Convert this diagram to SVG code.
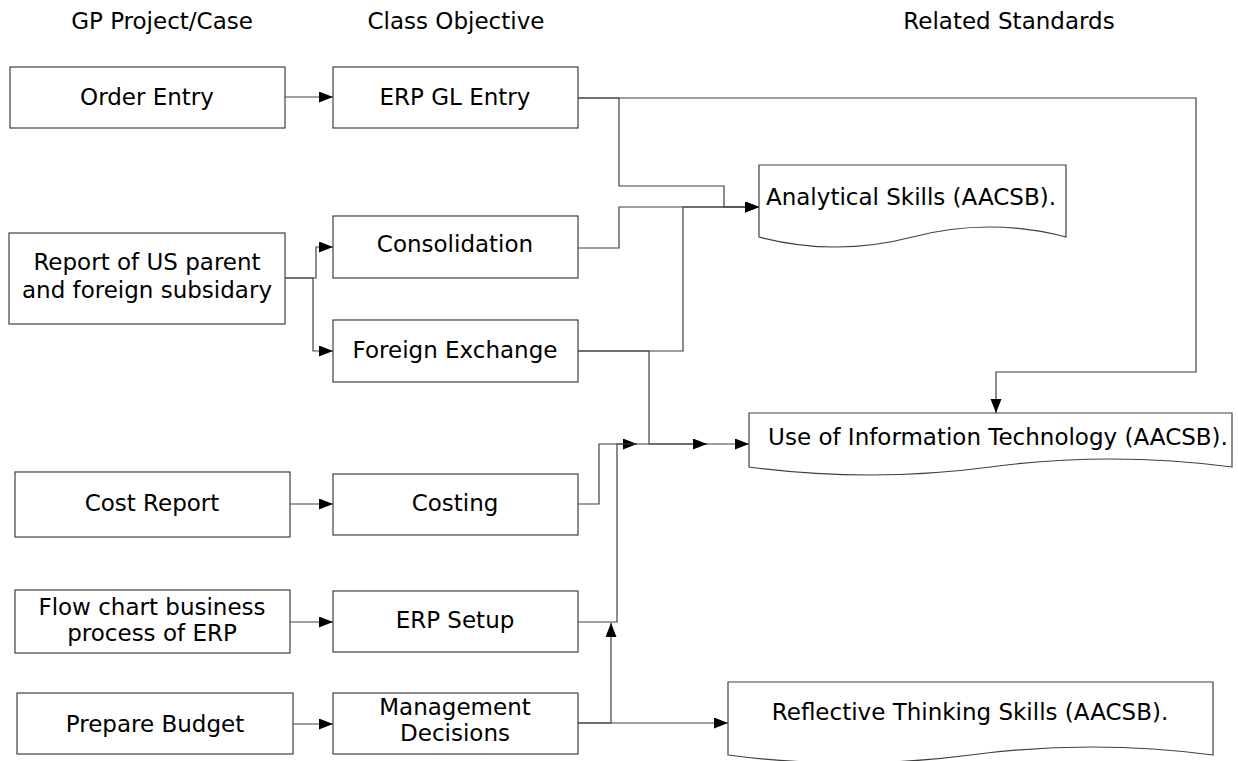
<svg xmlns="http://www.w3.org/2000/svg" width="1238" height="761" viewBox="0 0 1238 761">
<defs>
<marker id="arr" markerUnits="userSpaceOnUse" markerWidth="15" markerHeight="12" refX="14" refY="5.5" orient="auto">
<path d="M0,0 L14,5.5 L0,11 Z" fill="#000"/>
</marker>
<style>
.box{fill:#fff;stroke:#404040;stroke-width:1.2}
.t{font-family:"DejaVu Sans","Liberation Sans",sans-serif;font-size:23px;fill:#000;text-anchor:middle}
.ln{fill:none;stroke:#404040;stroke-width:1.2;marker-end:url(#arr)}
</style>
</defs>
<g id="headers">
<text class="t" x="162" y="29">GP Project/Case</text>
<text class="t" x="456" y="29">Class Objective</text>
<text class="t" x="1009" y="29">Related Standards</text>
</g>
<g id="connectors">
<path class="ln" d="M285,97 H333"/>
<path class="ln" d="M285,278 H316 V247 H333"/>
<path class="ln" d="M285,278 H313 V351 H333"/>
<path class="ln" d="M290,504 H333"/>
<path class="ln" d="M290,622 H333"/>
<path class="ln" d="M293,724 H333"/>
<path class="ln" d="M578,248 H619 V207 H759"/>
<path class="ln" d="M578,98 H619 V186 H724 V207 H759"/>
<path class="ln" d="M578,351 H683 V207 H759"/>
<path class="ln" d="M578,98 H1196 V372 H996 V413"/>
<path class="ln" d="M578,351 H649 V444 H749"/>
<path class="ln" d="M578,504 H599 V444 H637"/>
<path class="ln" d="M578,622 H617 V444 H707"/>
<path class="ln" d="M578,723 H611 V623"/>
<path class="ln" d="M578,723 H728"/>
</g>
<g id="n-order-entry">
<rect class="box" x="10" y="67" width="275" height="61"/>
<text class="t" x="147" y="105">Order Entry</text>
</g>
<g id="n-erp-gl">
<rect class="box" x="333" y="67" width="245" height="61"/>
<text class="t" x="455" y="105">ERP GL Entry</text>
</g>
<g id="n-report">
<rect class="box" x="9" y="233" width="276" height="91"/>
<text class="t" x="147" y="270">Report of US parent</text>
<text class="t" x="147" y="298">and foreign subsidary</text>
</g>
<g id="n-consolidation">
<rect class="box" x="333" y="216" width="245" height="62"/>
<text class="t" x="455" y="252">Consolidation</text>
</g>
<g id="n-fx">
<rect class="box" x="333" y="320" width="245" height="62"/>
<text class="t" x="455" y="358">Foreign Exchange</text>
</g>
<g id="n-cost-report">
<rect class="box" x="15" y="472" width="275" height="65"/>
<text class="t" x="152" y="511">Cost Report</text>
</g>
<g id="n-costing">
<rect class="box" x="333" y="474" width="245" height="61"/>
<text class="t" x="455" y="511">Costing</text>
</g>
<g id="n-flow-chart">
<rect class="box" x="15" y="590" width="275" height="63"/>
<text class="t" x="152" y="615">Flow chart business</text>
<text class="t" x="152" y="641">process of ERP</text>
</g>
<g id="n-erp-setup">
<rect class="box" x="333" y="591" width="245" height="61"/>
<text class="t" x="455" y="628">ERP Setup</text>
</g>
<g id="n-budget">
<rect class="box" x="17" y="693" width="276" height="61"/>
<text class="t" x="155" y="732">Prepare Budget</text>
</g>
<g id="n-mgmt">
<rect class="box" x="333" y="693" width="245" height="61"/>
<text class="t" x="455" y="715">Management</text>
<text class="t" x="455" y="741">Decisions</text>
</g>
<g id="n-analytical">
<path class="box" d="M759,165 H1066 V237 Q989,217 912.5,237 T759,237 Z"/>
<text class="t" x="911" y="205">Analytical Skills (AACSB).</text>
</g>
<g id="n-it">
<path class="box" d="M749,413 H1232 V467 Q1111,451 990.5,467 T749,467 Z"/>
<text class="t" x="998" y="445">Use of Information Technology (AACSB).</text>
</g>
<g id="n-reflective">
<path class="box" d="M728,682 H1213 V755 Q1092,739 970.5,755 T728,755 Z"/>
<text class="t" x="970" y="720">Reflective Thinking Skills (AACSB).</text>
</g>
</svg>
